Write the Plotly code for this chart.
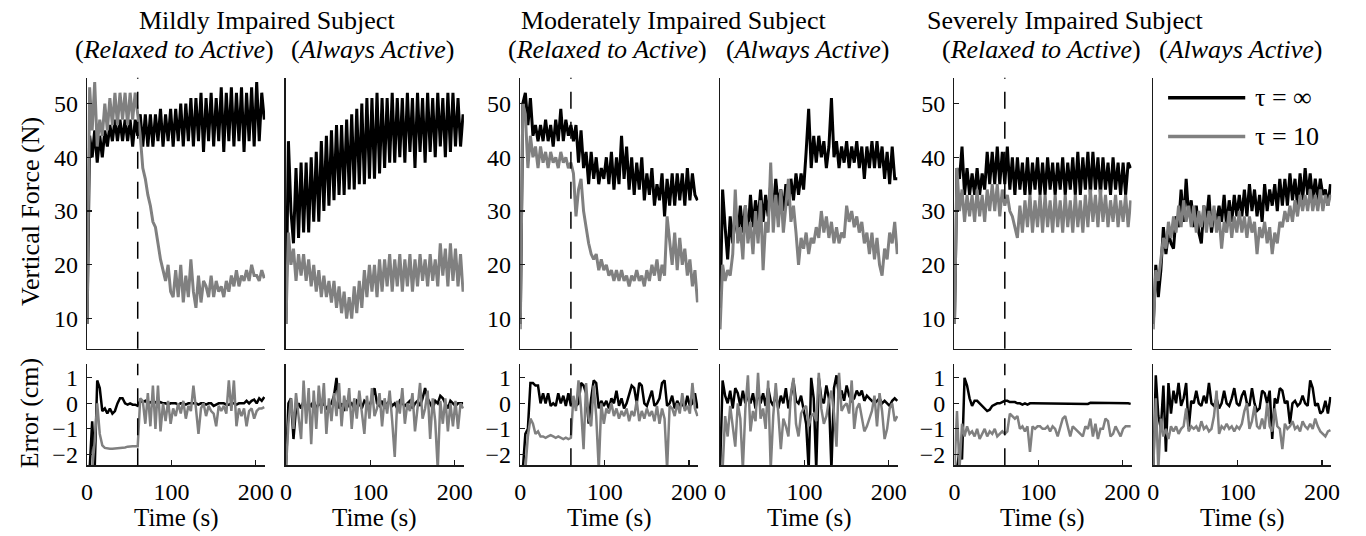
import plotly.graph_objects as go

# sample times (s), every 3 s
T = list(range(0, 211, 3))
SWITCH_T = 60

# ---- vertical force (N) ----
force_mild_ra_inf = [9, 44, 40, 45, 39, 44, 40, 45, 42, 46,
                     43, 47, 43, 47, 43, 47, 43, 47, 42, 47,
                     44, 48, 42, 48, 42, 48, 42, 48, 43, 49,
                     42, 48, 43, 49, 42, 49, 43, 50, 42, 50,
                     43, 51, 42, 51, 43, 52, 41, 51, 43, 52,
                     42, 51, 43, 53, 41, 52, 43, 53, 42, 52,
                     43, 53, 41, 52, 43, 53, 42, 54, 43, 52,
                     47]
force_mild_ra_10 = [9, 53, 45, 54, 42, 47, 44, 50, 45, 51,
                    46, 52, 46, 52, 47, 52, 46, 52, 47, 52,
                    48, 44, 38, 36, 33, 31, 28, 27, 24, 21,
                    19, 17, 20, 15, 14, 19, 14, 20, 13, 18,
                    14, 21, 15, 12, 18, 13, 17, 16, 14, 18,
                    14, 17, 15, 16, 14, 17, 15, 18, 16, 19,
                    16, 18, 17, 19, 17, 20, 18, 18, 17, 19,
                    17.5]
force_mild_aa_inf = [9, 43, 30, 24, 38, 25, 39, 26, 39, 26,
                     40, 28, 41, 28, 43, 30, 44, 31, 45, 32,
                     46, 33, 46, 33, 47, 34, 48, 34, 49, 35,
                     50, 35, 51, 36, 51, 36, 52, 37, 51, 38,
                     51, 39, 52, 39, 51, 40, 51, 39, 52, 41,
                     51, 38, 52, 41, 51, 39, 52, 41, 51, 40,
                     52, 42, 51, 40, 52, 41, 52, 42, 51, 42,
                     48]
force_mild_aa_10 = [9, 26, 20, 23, 17, 22, 18, 22, 17, 21,
                    16, 20, 15, 19, 14, 18, 14, 17, 13, 17,
                    12, 16, 11, 15, 10, 14, 10, 16, 11, 17,
                    12, 19, 14, 20, 15, 20, 14, 21, 15, 21,
                    16, 22, 15, 21, 16, 22, 15, 21, 16, 22,
                    15, 21, 16, 22, 17, 21, 16, 22, 17, 21,
                    16, 24, 18, 23, 16, 24, 17, 23, 16, 22,
                    15]
force_mod_ra_inf = [9, 50, 52, 46, 51, 44, 46, 43, 46, 43,
                    47, 43, 46, 42, 47, 43, 49, 43, 47, 44,
                    46, 43, 46, 39, 45, 38, 41, 35, 41, 36,
                    40, 35, 38, 36, 40, 35, 41, 34, 40, 35,
                    44, 36, 42, 34, 40, 33, 39, 34, 40, 32,
                    37, 33, 38, 31, 35, 32, 37, 29, 36, 31,
                    37, 31, 37, 32, 37, 31, 38, 32, 37, 33,
                    32]
force_mod_ra_10 = [8, 50, 48, 38, 44, 40, 42, 38, 42, 39,
                   41, 38, 41, 39, 40, 38, 41, 39, 40, 38,
                   39, 37, 29, 34, 36, 30, 27, 24, 22, 21,
                   22, 19, 21, 19, 20, 18, 19, 17, 19, 17,
                   19, 17, 18, 16, 18, 17, 19, 17, 18, 16,
                   19, 17, 20, 18, 21, 17, 20, 18, 29, 24,
                   20, 26, 19, 25, 20, 23, 18, 21, 16, 19,
                   13]
force_mod_aa_inf = [12, 34, 27, 21, 29, 24, 30, 25, 31, 26,
                    31, 25, 33, 27, 32, 28, 34, 28, 33, 29,
                    35, 30, 36, 31, 34, 30, 35, 31, 36, 32,
                    37, 33, 37, 34, 41, 49, 38, 44, 39, 44,
                    40, 43, 38, 42, 51, 40, 43, 38, 42, 39,
                    43, 38, 42, 39, 43, 38, 42, 36, 42, 38,
                    43, 38, 43, 38, 42, 36, 41, 35, 42, 36,
                    36]
force_mod_aa_10 = [8, 20, 17, 19, 18, 22, 34, 24, 27, 21,
                   31, 24, 28, 22, 30, 24, 32, 19, 28, 26,
                   39, 26, 33, 27, 34, 26, 31, 36, 28, 31,
                   26, 20, 25, 23, 26, 22, 25, 24, 27, 25,
                   30, 26, 29, 25, 28, 24, 27, 24, 26, 25,
                   31, 28, 30, 27, 29, 26, 28, 24, 26, 22,
                   26, 21, 25, 20, 18, 23, 21, 26, 24, 28,
                   22]
force_sev_ra_inf = [9, 38, 36, 42, 33, 38, 33, 37, 33, 38,
                    33, 37, 34, 41, 35, 41, 35, 42, 35, 41,
                    35, 42, 34, 40, 33, 40, 34, 39, 33, 40,
                    33, 39, 34, 40, 33, 39, 33, 40, 34, 39,
                    33, 39, 34, 40, 33, 39, 34, 40, 33, 41,
                    33, 40, 34, 41, 33, 41, 34, 40, 33, 40,
                    34, 39, 33, 40, 34, 39, 33, 39, 33, 39,
                    38]
force_sev_ra_10 = [9, 38, 30, 34, 28, 33, 29, 33, 28, 34,
                   29, 33, 28, 34, 30, 35, 30, 35, 29, 34,
                   31, 33, 30, 29, 27, 25, 31, 26, 32, 27,
                   33, 26, 32, 27, 33, 26, 33, 27, 32, 26,
                   33, 27, 32, 26, 33, 27, 32, 26, 33, 27,
                   32, 26, 33, 27, 34, 28, 33, 27, 34, 28,
                   33, 27, 32, 28, 33, 27, 32, 28, 33, 27,
                   32]
force_sev_aa_inf = [9, 20, 14, 19, 27, 22, 26, 24, 23, 29,
                    27, 34, 28, 36, 29, 32, 27, 31, 26, 24,
                    31, 28, 33, 26, 30, 28, 31, 28, 33, 27,
                    32, 28, 33, 29, 33, 29, 34, 29, 35, 30,
                    34, 29, 33, 28, 35, 30, 34, 31, 35, 30,
                    36, 31, 36, 31, 37, 32, 36, 31, 37, 32,
                    38, 33, 37, 32, 36, 32, 36, 33, 34, 31,
                    35]
force_sev_aa_10 = [8, 19, 17, 21, 25, 23, 28, 25, 29, 26,
                   31, 27, 32, 28, 31, 27, 31, 26, 30, 27,
                   31, 26, 30, 27, 31, 26, 29, 23, 28, 26,
                   30, 25, 29, 26, 30, 26, 29, 25, 29, 26,
                   28, 22, 27, 25, 28, 24, 27, 22, 26, 24,
                   28, 27, 30, 28, 31, 28, 32, 29, 33, 30,
                   33, 30, 34, 30, 33, 30, 34, 30, 33, 31,
                   33]

# ---- tracking error (cm) ----
err_mild_ra_inf = [-2.6, -2.6, -0.7, -2.6, 0.9, 0.6, -0.3, -0.2, -0.4, -0.2,
                   -0.4, -0.3, 0.0, 0.2, 0.2, 0.0, -0.05, 0.0, -0.05, -0.05,
                   -0.1, 0.1, 0.05, 0.1, 0.0, 0.05, 0.0, 0.05, 0.0, 0.05,
                   0.0, 0.0, -0.05, 0.0, 0.0, 0.0, -0.05, 0.0, 0.0, -0.05,
                   0.0, 0.0, 0.0, 0.0, -0.05, 0.0, 0.0, -0.05, 0.0, 0.0,
                   -0.1, -0.05, 0.0, 0.0, 0.0, -0.05, -0.05, 0.0, 0.0, -0.05,
                   0.0, 0.0, 0.0, 0.1, 0.0, 0.1, 0.15, 0.0, 0.2, 0.1,
                   0.25]
err_mild_ra_10 = [-2.6, -2.6, -2.6, -1.5, 0.0, -1.2, -1.65, -1.75, -1.78, -1.78,
                  -1.78, -1.77, -1.75, -1.75, -1.75, -1.73, -1.7, -1.68, -1.68, -1.68,
                  -1.68, 0.2, 0.1, -0.8, 0.4, -0.9, 0.7, -1.0, 0.7, -1.1,
                  0.0, -0.7, 0.1, -0.8, -0.2, -0.5, 0.0, -0.4, 0.1, -0.6,
                  -0.1, -0.3, 0.7, -0.2, -1.2, -0.2, 0.0, -0.5, -0.1, -0.3,
                  -0.4, -0.9, -0.1, -0.3, -0.1, -0.4, 0.9, -0.3, 0.9, -0.9,
                  -0.2, -0.5, -0.2, -0.9, -0.3, -0.2, -0.6, -0.3, -0.2, -0.2,
                  -0.15]
err_mild_aa_inf = [-2.6, 0.0, 0.2, -1.4, -0.2, 0.0, -0.2, 0.1, -0.2, 0.0,
                   -0.1, 0.1, -0.2, 0.0, -0.1, 0.0, -0.2, -0.1, 0.0, 0.3,
                   1.0, -0.2, 0.0, -0.3, 0.1, -0.1, 0.0, -0.2, 0.1, 0.0,
                   -0.2, 0.1, 0.0, -0.1, 0.2, 0.6, 0.0, -0.1, 0.1, -0.2,
                   0.0, 0.1, -0.1, 0.0, -0.2, 0.1, 0.0, -0.1, 0.0, 0.1,
                   -0.2, 0.0, 0.1, -0.1, 0.2, 0.6, 0.2, 0.0, -0.2, 0.1,
                   0.0, 0.3, 0.2, 0.0, -0.2, 0.1, 0.0, -0.1, 0.0, 0.0,
                   0.0]
err_mild_aa_10 = [-2.6, -0.8, 0.2, -1.0, 0.4, -0.6, -1.4, 0.9, -0.8, 0.6,
                  -1.6, 0.5, -1.0, 0.7, -0.4, 0.8, -1.2, 0.2, -0.7, 0.4,
                  -0.5, 0.8, -0.9, 0.3, -0.3, 0.6, -1.0, 0.2, -0.6, 0.5,
                  -0.4, -1.2, 0.3, -0.6, 0.6, -0.5, -0.2, 0.4, -0.9, 0.2,
                  -0.4, 0.5, -0.7, -2.1, 0.1, -0.4, 0.6, -0.8, 0.0, -0.3,
                  0.4, -1.1, -0.2, 0.8, -0.6, -0.2, 0.5, -1.4, 0.2, -0.7,
                  -2.6, 0.1, -0.8, 0.2, -1.1, 0.0, -0.9, 0.1, -1.0, 0.0,
                  -0.2]
err_mod_ra_inf = [-2.6, -2.6, -1.2, -1.0, 0.8, 0.8, 0.7, 0.7, 0.0, 0.4,
                  0.0, 0.4, -0.1, 0.0, -0.1, 0.4, 0.0, 0.3, -0.1, 0.4,
                  -0.1, 0.0, -0.1, 0.0, 0.8, 0.7, 0.4, -0.8, 0.2, 0.9,
                  0.8, -0.2, 0.1, -0.1, 0.1, -0.2, 0.2, 0.0, 0.5, -0.1,
                  0.2, -0.2, 0.0, 0.4, 0.7, 0.6, 0.0, 0.8, 0.7, 0.0,
                  -0.1, 0.2, 0.5, -0.1, 0.0, 0.2, 0.8, 0.9, -0.1, 0.0,
                  0.3, -0.2, 0.1, -0.1, 0.0, -0.2, 0.3, -0.1, 0.0, 0.4,
                  -0.2]
err_mod_ra_10 = [-2.6, -2.6, -2.6, -1.3, -0.6, -0.8, -1.2, -1.1, -1.3, -1.3,
                 -1.35, -1.3, -1.25, -1.3, -1.35, -1.3, -1.35, -1.4, -1.35, -1.4,
                 -1.35, 0.3, -0.3, 0.9, -0.2, -1.8, 0.8, -0.6, -0.9, 0.7,
                 -0.5, -2.6, 0.0, -0.8, -0.2, -0.4, 0.0, -0.5, -0.2, -0.6,
                 -0.3, -0.5, -0.2, -0.7, -0.3, -0.5, 0.1, -0.7, -0.3, -0.6,
                 -0.2, -0.5, -0.3, -0.7, -0.1, -0.8, -0.2, -0.6, -2.6, -0.1,
                 -0.2, -0.5, 0.0, -0.4, 0.4, -0.3, -0.1, -0.4, 0.8, -0.2,
                 -0.5]
err_mod_aa_inf = [-2.6, 0.9, 0.3, 0.0, 0.5, -0.2, 0.6, 0.4, -0.1, 0.5,
                  0.0, 0.3, 0.0, 0.4, -0.2, 0.5, 0.0, 0.4, -0.1, 0.6,
                  0.1, -0.1, 0.4, -0.2, 0.3, 0.0, 0.6, -0.2, 0.3, 0.9,
                  0.1, 0.0, 0.3, -0.3, -0.8, -2.6, 1.0, 0.2, -2.6, 1.0,
                  0.2, 0.0, 0.7, 0.2, -2.6, 0.6, 1.1, 0.3, 0.5, 0.1,
                  0.7, 0.3, 0.1, 0.2, 0.5, 0.3, 0.5, 0.1, 0.3, 0.2,
                  0.1, 0.0, 0.1, 0.2, 0.0, 0.1, 0.0, -0.1, 0.1, 0.2,
                  0.1]
err_mod_aa_10 = [-2.6, -2.6, -0.5, -1.3, -0.1, -0.9, -1.7, 0.0, -0.6, -2.6,
                 -0.2, 1.1, -1.1, -0.3, -0.7, 1.2, -0.6, -0.2, -1.0, 0.9,
                 -2.6, -0.5, 0.8, -0.4, -1.8, -0.6, -0.9, -1.3, 0.4, 1.0,
                 -0.8, -1.3, -0.4, -0.2, -0.1, -0.9, -0.5, -0.4, -0.7, 1.2,
                 -0.2, -0.8, -0.5, 0.1, 0.5, -0.4, -1.7, 1.2, -0.3, -0.1,
                 0.0, -0.4, 0.9, -1.0, -0.2, 0.0, -0.6, -1.1, -0.9, -0.6,
                 -0.3, 0.3, -0.9, 0.4, -0.3, -1.4, -1.0, -0.2, 0.0, -0.7,
                 -0.5]
err_sev_ra_inf = [-2.6, -2.6, -1.8, -2.2, 1.0, 0.7, 0.2, -0.1, 0.1, 0.1,
                  0.0, -0.1, -0.2, -0.3, -0.25, -0.1, -0.05, 0.0, 0.0, 0.05,
                  0.1, 0.1, 0.05, 0.05, 0.05, 0.0, 0.0, -0.05, 0.0, -0.05,
                  0.0, 0.0, 0.0, 0.0, 0.0, -0.02, 0.0, 0.0, 0.0, 0.0,
                  0.0, -0.02, 0.0, 0.0, 0.0, 0.0, -0.02, -0.02, -0.02, -0.02,
                  -0.02, -0.02, -0.02, -0.02, 0.02, 0.02, 0.02, 0.02, 0.02, 0.02,
                  0.02, 0.02, 0.02, 0.02, 0.02, 0.0, 0.0, 0.0, 0.0, 0.0,
                  -0.02]
err_sev_ra_10 = [-2.6, -0.3, -2.6, -0.8, -1.3, -0.9, -1.2, -1.1, -1.3, -1.0,
                 -1.4, -1.2, -1.0, -1.3, -1.1, -1.2, -1.0, -1.3, -1.2, -1.1,
                 -1.2, -1.1, -0.4, -0.5, -0.6, -0.5, -1.0, -0.9, -1.1, -0.9,
                 -1.9, -0.9, -1.0, -0.9, -0.9, -1.0, -1.0, -0.9, -1.1, -0.9,
                 -1.0, -1.3, -0.9, -0.6, -0.5, -0.9, -1.3, -0.9, -1.0, -1.1,
                 -1.2, -1.3, -0.9, -1.0, -0.6, -1.3, -0.8, -1.4, -1.0, -1.0,
                 -0.6, -0.7, -1.3, -1.2, -0.9, -1.1, -1.3, -1.0, -0.9, -0.9,
                 -0.9]
err_sev_aa_inf = [-2.6, 1.1, -0.5, -1.0, 0.7, -1.9, 0.8, -0.4, 0.5, 0.0,
                  0.8, -0.1, 0.2, 0.8, -1.0, 0.1, 0.0, 0.5, 0.0, -0.1,
                  0.3, 0.0, 0.8, 0.0, -0.1, 0.2, -0.2, 0.0, 0.5, 0.0,
                  -0.1, 0.2, 0.6, 0.0, -0.1, 0.3, 0.5, 0.0, -0.1, 0.6,
                  0.0, -0.3, -0.2, 0.5, 0.4, 0.0, 0.5, -1.4, 0.2, 0.0,
                  0.6, 0.5, 0.0, 0.1, -0.8, 0.0, 0.1, -0.1, 0.0, 0.3,
                  0.0, -0.1, 0.9, 0.6, -0.1, 0.0, -0.4, -0.3, 0.1, -0.4,
                  0.25]
err_sev_aa_10 = [-2.6, 0.2, -2.6, -0.6, -1.3, -1.0, -1.4, -0.9, -1.1, -0.9,
                 -1.2, -1.0, -0.9, -0.2, -1.1, -0.9, -1.0, -0.9, -1.1, -0.7,
                 -1.0, -0.9, -1.1, -1.0, -0.5, 0.5, -1.2, -0.9, -1.0, -0.8,
                 -1.0, -0.9, -1.1, -0.9, -1.0, -0.8, -0.3, 0.0, -1.0, -0.7,
                 -0.1, -0.9, -1.0, -0.6, -1.0, 0.0, -0.9, -1.1, -0.2, -0.9,
                 -1.0, -1.8, -0.8, -1.0, -0.9, -0.7, -1.0, -0.9, -1.1, -0.7,
                 -0.9, -1.0, -0.8, -1.0, -0.6, -0.9, -1.1, -1.2, -1.3, -1.1,
                 -1.05]

subjects = ['Mildly Impaired Subject', 'Moderately Impaired Subject', 'Severely Impaired Subject']
conditions = ['Relaxed to Active', 'Always Active']
legend_names = ['\u03c4 = \u221e', '\u03c4 = 10']

columns = [
    dict(f_inf=force_mild_ra_inf, f_10=force_mild_ra_10, e_inf=err_mild_ra_inf, e_10=err_mild_ra_10),
    dict(f_inf=force_mild_aa_inf, f_10=force_mild_aa_10, e_inf=err_mild_aa_inf, e_10=err_mild_aa_10),
    dict(f_inf=force_mod_ra_inf, f_10=force_mod_ra_10, e_inf=err_mod_ra_inf, e_10=err_mod_ra_10),
    dict(f_inf=force_mod_aa_inf, f_10=force_mod_aa_10, e_inf=err_mod_aa_inf, e_10=err_mod_aa_10),
    dict(f_inf=force_sev_ra_inf, f_10=force_sev_ra_10, e_inf=err_sev_ra_inf, e_10=err_sev_ra_10),
    dict(f_inf=force_sev_aa_inf, f_10=force_sev_aa_10, e_inf=err_sev_aa_inf, e_10=err_sev_aa_10),
]

# page geometry in window pixels (body margin is removed below)
W, H = 1366, 536
COL_PX = [(82, 262), (283, 463), (520, 700), (722, 902), (959, 1138), (1160, 1340)]
TOP_PX = (78, 350)
BOT_PX = (365, 467)
FONT = 'Liberation Serif, Times New Roman, serif'
BLACK = '#000000'
GRAY = '#808080'
AXIS = '#1a1a1a'


def px(x):
    return x / W


def py(y):
    return 1 - y / H


fig = go.Figure()
layout = {}
shapes = []

rows = [
    dict(keys=('f_inf', 'f_10'), ypx=TOP_PX, yrange=[4.4, 54.8], yticks=[10, 20, 30, 40, 50], width=3.0),
    dict(keys=('e_inf', 'e_10'), ypx=BOT_PX, yrange=[-2.43, 1.56], yticks=[-2, -1, 0, 1], width=2.5),
]

for c, col in enumerate(columns):
    x0, x1 = COL_PX[c]
    labelled = c % 2 == 0
    for r, row in enumerate(rows):
        n = c + 1 + 6 * r
        sfx = '' if n == 1 else str(n)
        for key, color in zip(row['keys'], [BLACK, GRAY]):
            fig.add_trace(go.Scatter(
                x=T, y=col[key], xaxis='x' + sfx, yaxis='y' + sfx,
                mode='lines', line=dict(color=color, width=row['width']),
                hoverinfo='skip', showlegend=False))
        bottom = r == 1
        layout['xaxis' + sfx] = dict(
            domain=[px(x0), px(x1)], range=[0, 211], anchor='y' + sfx,
            showline=True, linecolor=AXIS, linewidth=1.4, mirror=False,
            showgrid=False, zeroline=False,
            tickvals=[0, 100, 200], ticks='inside' if bottom else '',
            ticklen=5, tickwidth=1.2, tickcolor=AXIS,
            showticklabels=bottom, ticklabelstandoff=5,
            tickfont=dict(family=FONT, size=24, color='black'))
        layout['yaxis' + sfx] = dict(
            domain=[py(row['ypx'][1]), py(row['ypx'][0])], range=row['yrange'],
            anchor='x' + sfx, showline=True, linecolor=AXIS, linewidth=1.4,
            showgrid=False, zeroline=False,
            tickvals=row['yticks'], ticks='inside' if labelled else '',
            ticklen=5, tickwidth=1.2, tickcolor=AXIS,
            showticklabels=labelled, ticklabelstandoff=3,
            tickfont=dict(family=FONT, size=24, color='black'))
        if labelled:
            shapes.append(dict(type='line', xref='x' + sfx, yref='y' + sfx + ' domain',
                               x0=SWITCH_T, x1=SWITCH_T, y0=0, y1=1,
                               line=dict(color=BLACK, width=1.5, dash='17px,13px')))

annotations = []
title_x = [264, 675, 1071]
for s, name in enumerate(subjects):
    annotations.append(dict(text=name, x=px(title_x[s]), y=py(21)))
for c in range(6):
    x0, x1 = COL_PX[c]
    annotations.append(dict(text='(<i>%s</i>)' % conditions[c % 2], x=px((x0 + x1) / 2 - 2), y=py(50)))
    annotations.append(dict(text='Time (s)', x=px((x0 + x1) / 2), y=py(520), size=25))
annotations.append(dict(text='Vertical Force (N)', x=px(24), y=py(212), textangle=-90))
annotations.append(dict(text='Error (cm)', x=px(24), y=py(415), textangle=-90))
for name, ly in zip(legend_names, [98, 137]):
    annotations.append(dict(text=name, x=px(1261), y=py(ly), xanchor='left'))
for a in annotations:
    a.setdefault('xanchor', 'center')
    size = a.pop('size', 26)
    a.update(xref='paper', yref='paper', yanchor='middle', showarrow=False,
             font=dict(family=FONT, size=size, color='black'))

for color, ly in zip([BLACK, GRAY], [98, 137]):
    shapes.append(dict(type='line', xref='paper', yref='paper',
                       x0=px(1175), x1=px(1253), y0=py(ly), y1=py(ly),
                       line=dict(color=color, width=3.5)))

fig.update_layout(
    width=W, height=H,
    margin=dict(l=0, r=0, t=0, b=0),
    paper_bgcolor='white', plot_bgcolor='white',
    showlegend=False,
    shapes=shapes, annotations=annotations,
    **layout)

fig.write_html("out.html", config={'staticPlot': True},
               post_script="document.body.style.margin = '0';")
